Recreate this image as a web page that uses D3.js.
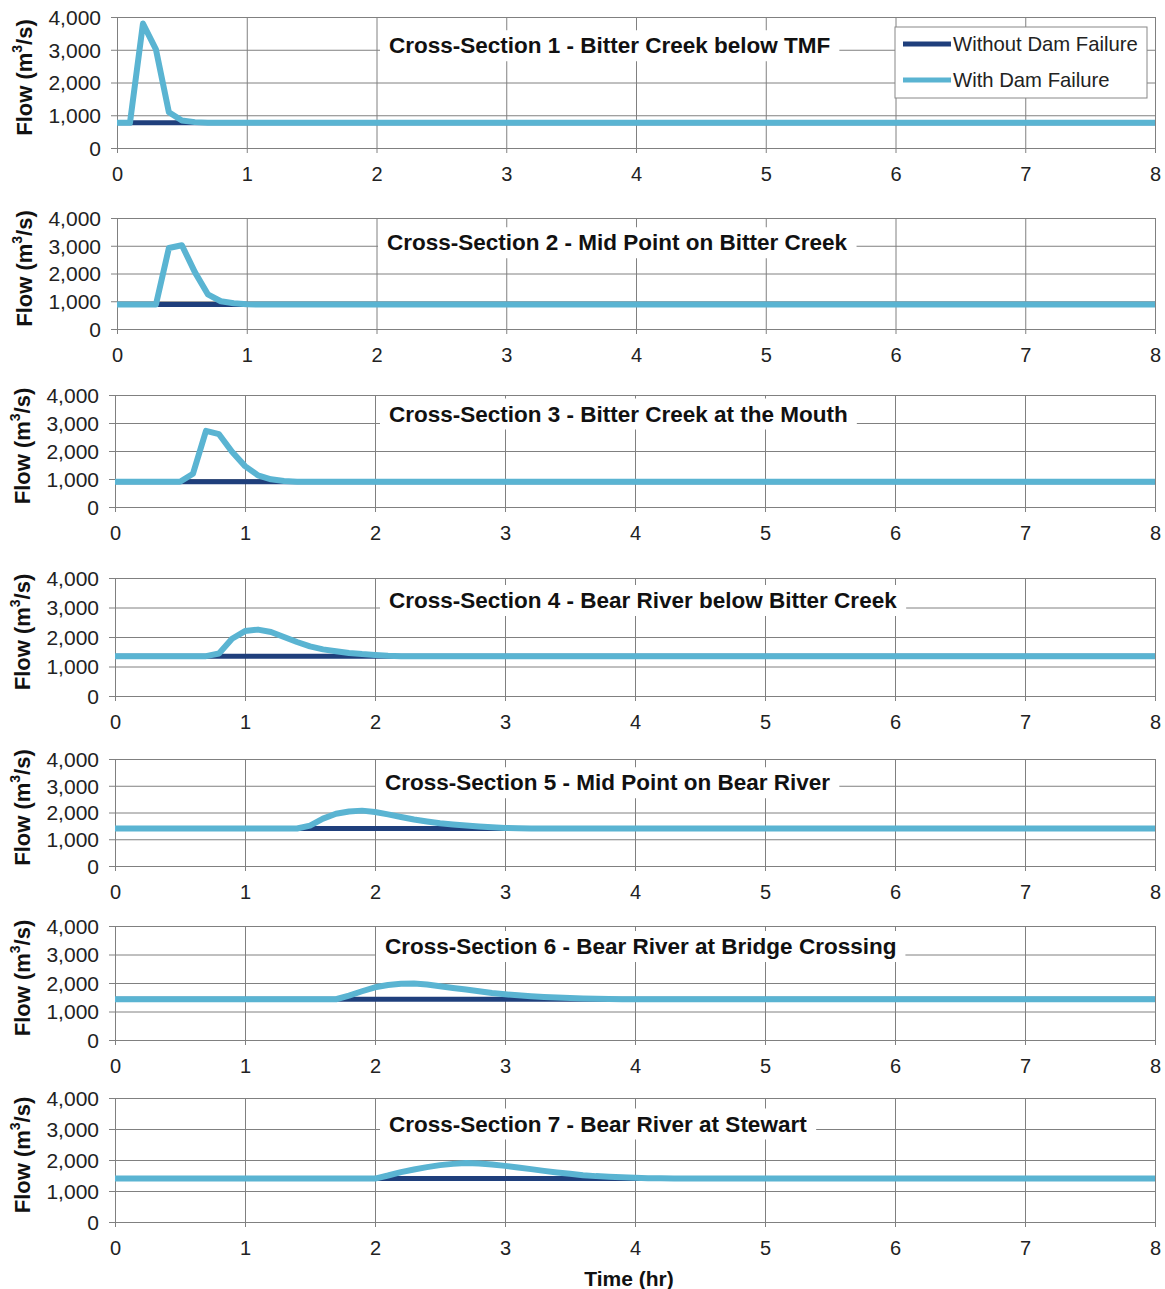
<!DOCTYPE html>
<html><head><meta charset="utf-8">
<script src="https://cdn.jsdelivr.net/npm/d3@7"></script>
<style>body{margin:0;background:#fff} svg{display:block}</style>
</head><body><svg id="c" width="1165" height="1289"></svg>
<script>
// ---------- data ----------
const hourTicks = [0, 1, 2, 3, 4, 5, 6, 7, 8];
const flowTicks = [0, 1000, 2000, 3000, 4000];
const seriesNames = ["Without Dam Failure", "With Dam Failure"];
const sectionTitles = [
  "Cross-Section 1 - Bitter Creek below TMF",
  "Cross-Section 2 - Mid Point on Bitter Creek",
  "Cross-Section 3 - Bitter Creek at the Mouth",
  "Cross-Section 4 - Bear River below Bitter Creek",
  "Cross-Section 5 - Mid Point on Bear River",
  "Cross-Section 6 - Bear River at Bridge Crossing",
  "Cross-Section 7 - Bear River at Stewart"
];
// without dam failure: steady flow over the 0-8 hr window
const withoutTime = [0, 8];
const without1 = [770, 770];
const without2 = [880, 880];
const without3 = [900, 900];
const without4 = [1350, 1350];
const without5 = [1400, 1400];
const without6 = [1430, 1430];
const without7 = [1400, 1400];
// with dam failure
const with1Time = [0, 0.1, 0.2, 0.3, 0.4, 0.5, 0.6, 0.7, 8];
const with1Flow = [770, 770, 3800, 3010, 1090, 840, 790, 770, 770];
const with2Time = [0, 0.3, 0.4, 0.5, 0.6, 0.7, 0.8, 0.9, 1.0, 1.1, 8];
const with2Flow = [880, 880, 2920, 3020, 2050, 1250, 1000, 930, 895, 880, 880];
const with3Time = [0, 0.5, 0.6, 0.7, 0.8, 0.9, 1.0, 1.1, 1.2, 1.3, 1.4, 8];
const with3Flow = [900, 900, 1190, 2720, 2600, 1970, 1460, 1130, 990, 930, 905, 900];
const with4Time = [0, 0.7, 0.8, 0.9, 1.0, 1.1, 1.2, 1.3, 1.4, 1.5, 1.6, 1.7, 1.8, 1.9, 2.0, 2.1, 2.2, 8];
const with4Flow = [1350, 1350, 1440, 1940, 2200, 2250, 2170, 2000, 1830, 1680, 1580, 1520, 1460, 1420, 1390, 1365, 1350, 1350];
const with5Time = [0, 1.4, 1.5, 1.6, 1.7, 1.8, 1.9, 2.0, 2.1, 2.2, 2.3, 2.4, 2.5, 2.6, 2.7, 2.8, 2.9, 3.0, 3.1, 3.2, 8];
const with5Flow = [1400, 1400, 1510, 1770, 1955, 2040, 2070, 2020, 1930, 1830, 1740, 1665, 1600, 1550, 1510, 1475, 1450, 1425, 1410, 1400, 1400];
const with6Time = [0, 1.7, 1.8, 1.9, 2.0, 2.1, 2.2, 2.3, 2.4, 2.5, 2.6, 2.7, 2.8, 2.9, 3.0, 3.1, 3.2, 3.3, 3.4, 3.5, 3.6, 3.7, 3.8, 3.9, 8];
const with6Flow = [1430, 1430, 1560, 1710, 1850, 1930, 1975, 1980, 1945, 1885, 1825, 1770, 1710, 1650, 1605, 1570, 1535, 1510, 1490, 1470, 1455, 1445, 1438, 1432, 1430];
const with7Time = [0, 2.0, 2.1, 2.2, 2.3, 2.4, 2.5, 2.6, 2.7, 2.8, 2.9, 3.0, 3.1, 3.2, 3.3, 3.4, 3.5, 3.6, 3.7, 3.8, 3.9, 4.0, 4.1, 4.2, 4.3, 8];
const with7Flow = [1400, 1400, 1500, 1610, 1695, 1770, 1835, 1875, 1900, 1890, 1855, 1810, 1760, 1705, 1650, 1600, 1555, 1510, 1480, 1460, 1440, 1425, 1415, 1408, 1402, 1400];

const withoutSeries = [without1, without2, without3, without4, without5, without6, without7];
const withTimes = [with1Time, with2Time, with3Time, with4Time, with5Time, with6Time, with7Time];
const withFlows = [with1Flow, with2Flow, with3Flow, with4Flow, with5Flow, with6Flow, with7Flow];

// ---------- layout (positions, not data) ----------
const layout = [
  {left: 117, top: 17,   bottom: 148,  titleX: 389, titleDy: -4},
  {left: 117, top: 218,  bottom: 329,  titleX: 387, titleDy: -3},
  {left: 115, top: 395,  bottom: 507,  titleX: 389, titleDy: -9},
  {left: 115, top: 578,  bottom: 696,  titleX: 389, titleDy: -7},
  {left: 115, top: 759,  bottom: 866,  titleX: 385, titleDy: -3},
  {left: 115, top: 926,  bottom: 1040, titleX: 385, titleDy: -8},
  {left: 115, top: 1098, bottom: 1222, titleX: 389, titleDy: -5}
];
const RIGHT = 1155;
const DARK = "#1f3f7c", LIGHT = "#5ab4d2", GRID = "#808080";
const FONT = "Arial, 'Liberation Sans', Helvetica, sans-serif";

const svg = d3.select("#c");
svg.append("rect").attr("width", 1165).attr("height", 1289).attr("fill", "#fff");

layout.forEach((L, i) => {
  const x = d3.scaleLinear().domain([0, 8]).range([L.left, RIGHT]);
  const y = d3.scaleLinear().domain([0, 4000]).range([L.bottom, L.top]);
  const g = svg.append("g").attr("font-family", FONT);

  // vertical gridlines (+ tick marks below)
  const xAxis = d3.axisBottom(x).tickValues(hourTicks).tickSize(-(L.bottom - L.top)).tickSizeOuter(0).tickFormat(d3.format("d"));
  const gx = g.append("g").attr("transform", `translate(0,${L.bottom})`).call(xAxis);
  gx.select(".domain").remove();
  gx.selectAll(".tick line").attr("stroke", GRID).attr("y2", -(L.bottom - L.top)).attr("y1", 5);
  gx.selectAll(".tick text").attr("y", 0).attr("dy", null).attr("transform", "translate(0,26)")
    .attr("dominant-baseline", "central").attr("font-size", 20).attr("fill", "#222");

  // horizontal gridlines (+ tick marks left)
  const yAxis = d3.axisLeft(y).tickValues(flowTicks).tickSize(-(RIGHT - L.left)).tickSizeOuter(0).tickFormat(d3.format(","));
  const gy = g.append("g").attr("transform", `translate(${L.left},0)`).call(yAxis);
  gy.select(".domain").remove();
  gy.selectAll(".tick line").attr("stroke", GRID).attr("x1", -6).attr("x2", RIGHT - L.left);
  gy.selectAll(".tick text").attr("x", -16).attr("dy", "0.35em").attr("font-size", 21).attr("fill", "#222");

  // title with white box
  const tg = g.append("g");
  const tt = tg.append("text").attr("x", L.titleX).attr("y", y(3000) + L.titleDy)
    .attr("dominant-baseline", "central").attr("font-size", 22.5).attr("font-weight", "bold")
    .attr("fill", "#111").text(sectionTitles[i]);
  const bb = tt.node().getBBox();
  tg.insert("rect", "text").attr("x", bb.x - 9).attr("y", bb.y - 3).attr("width", bb.width + 18)
    .attr("height", bb.height + 6).attr("fill", "#fff");

  // lines
  const line = d3.line().x(d => x(d[0])).y(d => y(d[1]));
  g.append("path").datum(withoutTime.map((t, k) => [t, withoutSeries[i][k]]))
    .attr("d", line).attr("fill", "none").attr("stroke", DARK).attr("stroke-width", 5);
  g.append("path").datum(withTimes[i].map((t, k) => [t, withFlows[i][k]]))
    .attr("d", line).attr("fill", "none").attr("stroke", LIGHT).attr("stroke-width", 6).attr("stroke-linejoin", "round");

  // y axis title
  const cy = (L.top + L.bottom) / 2 - 5;
  g.append("text").attr("transform", `translate(${L.left - 93},${cy}) rotate(-90)`)
    .attr("text-anchor", "middle").attr("dominant-baseline", "central")
    .attr("font-size", 22).attr("font-weight", "bold").attr("fill", "#111")
    .html("Flow (m<tspan font-size='14' dy='-7'>3</tspan><tspan dy='7'>/s)</tspan>");

  // legend in first panel
  if (i === 0) {
    const lg = g.append("g");
    lg.append("rect").attr("x", 895).attr("y", 27).attr("width", 252).attr("height", 71)
      .attr("fill", "#fff").attr("stroke", "#888").attr("stroke-width", 1);
    const colors = [DARK, LIGHT];
    seriesNames.forEach((name, k) => {
      const ry = 44 + k * 36;
      lg.append("line").attr("x1", 903).attr("x2", 951).attr("y1", ry).attr("y2", ry)
        .attr("stroke", colors[k]).attr("stroke-width", 5);
      lg.append("text").attr("x", 953).attr("y", ry).attr("dominant-baseline", "central")
        .attr("font-size", 20.3).attr("fill", "#222").text(name);
    });
  }
});

svg.append("text").attr("x", 629).attr("y", 1278).attr("text-anchor", "middle")
  .attr("dominant-baseline", "central").attr("font-family", FONT)
  .attr("font-size", 21).attr("font-weight", "bold").attr("fill", "#111").text("Time (hr)");
</script>
</body></html>
